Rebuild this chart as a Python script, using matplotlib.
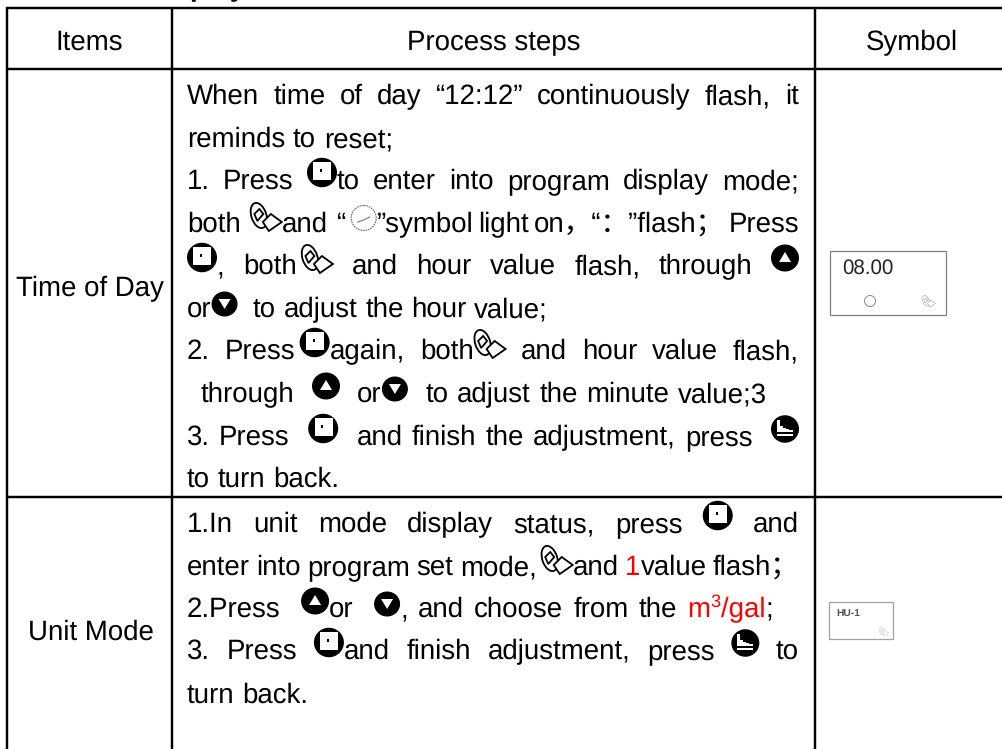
import numpy as np
import matplotlib
matplotlib.use("Agg")
import matplotlib.pyplot as plt
from matplotlib.font_manager import FontProperties
from matplotlib.patches import Ellipse, Rectangle, Polygon, Circle

plt.rcParams["text.hinting"] = "no_hinting"

# ---- content -------------------------------------------------------------
title_text = "Display"
header_labels = ["Items", "Process steps", "Symbol"]
row_labels = ["Time of Day", "Unit Mode"]
# words split by space; "+" glues pieces; @ = icon, # = red, ^ = red superscript
row1_steps = [
    ("When time of day “12:12” continuously flash, it", True),
    ("reminds to reset;", False),
    ("1. Press @set+to enter into program display mode;", True),
    ("both  @key+and  “+@gap+@clock+”symbol light on，“：”flash； Press", True),
    ("@set+, both+@gap+@key and hour value flash, through @up", True),
    ("or+@down  to adjust the hour value;", False),
    ("2. Press+@gap+@set+again, both+@key and hour value flash,", True),
    ("through  @up  or+@down  to adjust the minute value;3", True),
    ("3. Press  @set  and finish the adjustment, press  @back", True),
    ("to turn back.", False),
]
row2_steps = [
    ("1.In unit mode display status, press @set and", True),
    ("enter into program set mode,+@gap+@key+and #1+value flash；", True),
    ("2.Press  @up+or  @down+, and choose from the #m+^3+#/gal+;", True),
    ("3. Press @set+and finish adjustment, press @back to", True),
    ("turn back.", False),
]
symbol_labels = ["08.00", "HU-1"]

FAM = ["Liberation Sans", "Noto Sans CJK SC"]
PX = 27.6
PT = PX * 72 / 100
FONT = FontProperties(family=FAM, size=PT)
RED = "#ff0000"
INK = "#000000"

fig = plt.figure(figsize=(10.02, 7.49), dpi=100)
ax = fig.add_axes([0, 0, 1, 1])
ax.set_xlim(0, 1002)
ax.set_ylim(749, 0)
ax.axis("off")
renderer = fig.canvas.get_renderer()


def twidth(s, fp=FONT):
    return renderer.get_text_width_height_descent(s, fp, False)[0]


# ---- icons ---------------------------------------------------------------
def disc(x, cy, w, h):
    ax.add_patch(Ellipse((x + w / 2, cy), w, h, fc="black", ec="none", zorder=3))


def icon_set(x, base):
    cx, cy = x + 15, base - 16.5
    disc(x, cy, 30, 29.5)
    ax.add_patch(Rectangle((cx - 8.5, cy - 10.5), 18, 18, fc="white", ec="none", zorder=4))
    ax.add_patch(Rectangle((cx - 2, cy - 4), 2.2, 3, fc="black", ec="none", zorder=5))
    ax.add_patch(Rectangle((cx - 8, cy + 4), 11, 0.8, fc="#bbbbbb", ec="none", zorder=5))


def icon_up(x, base):
    cx, cy = x + 14, base - 16
    disc(x, cy, 28, 27)
    ax.add_patch(Polygon([(cx - 6, cy + 4), (cx + 6, cy + 4), (cx, cy - 6)], fc="white", ec="none", zorder=4))


def icon_down(x, base):
    cx, cy = x + 13, base - 13
    disc(x, cy, 26, 25)
    ax.add_patch(Polygon([(cx - 6, cy - 5), (cx + 6, cy - 5), (cx, cy + 5)], fc="white", ec="none", zorder=4))


def icon_back(x, base):
    cx, cy = x + 14, base - 16
    disc(x, cy, 28, 27.5)
    pts = [(-8, -9), (-5, -9), (-5, -3), (-2, -3), (-2, -1), (1, -1), (1, 0), (4, 0),
           (4, 1), (8, 1), (8, 3), (-8, 3)]
    ax.add_patch(Polygon([(cx + a, cy + b) for a, b in pts], fc="white", ec="none", zorder=4))
    ax.add_patch(Rectangle((cx - 8, cy + 5), 16, 2.2, fc="white", ec="none", zorder=4))


def icon_key(x, top, s=1.0, col="black", lw=1.3):
    ax.add_patch(Ellipse((x + 9 * s, top + 13.5 * s), 15 * s, 26 * s, angle=-18, fc="white", ec=col, lw=lw, zorder=3))
    ax.add_patch(Polygon([(x + 13 * s, top + 20 * s), (x + 21 * s, top + 12 * s), (x + 32 * s, top + 20 * s),
                          (x + 19 * s, top + 29 * s)], fc="white", ec=col, lw=lw, zorder=4))
    ax.add_patch(Polygon([(x + 4.5 * s, top + 12 * s), (x + 9.5 * s, top + 7 * s), (x + 13.5 * s, top + 12 * s),
                          (x + 7.5 * s, top + 19 * s)], fc="white", ec=col, lw=lw, zorder=5))


def icon_clock(x, base):
    cx, cy = x + 13.5, base - 14
    ax.add_patch(Circle((cx, cy), 12.5, fc="white", ec="#666666", lw=0.8, ls=(0, (1.5, 0.8)), zorder=3))
    ax.plot([cx - 6, cx, cx + 6], [cy + 4, cy + 2, cy - 1], color="#777777", lw=0.8, zorder=4)


ICONS = {
    "set": (30, lambda x, b: icon_set(x, b)),
    "up": (28, lambda x, b: icon_up(x, b)),
    "down": (26, lambda x, b: icon_down(x, b)),
    "back": (28, lambda x, b: icon_back(x, b)),
    "key": (32, lambda x, b: icon_key(x, b - 30)),
    "clock": (27, lambda x, b: icon_clock(x, b)),
    "gap": (4, lambda x, b: None),
}


# ---- inline layout -------------------------------------------------------
def piece_width(p):
    if p.startswith("@"):
        return ICONS[p[1:]][0]
    if p.startswith("#"):
        return twidth(p[1:])
    if p.startswith("^"):
        return twidth(p[1:]) * 0.66
    return twidth(p)


def draw_piece(p, x, base):
    if p.startswith("@"):
        ICONS[p[1:]][1](x, base)
    elif p.startswith("#"):
        ax.text(x, base, p[1:], color=RED, fontproperties=FONT, va="baseline", ha="left")
    elif p.startswith("^"):
        ax.text(x, base - 10, p[1:], color=RED, family=FAM, size=PT * 0.66, va="baseline", ha="left")
    else:
        ax.text(x, base, p, color=INK, fontproperties=FONT, va="baseline", ha="left")


def draw_line(spec, justify, x0, x1, base, natural=7.7):
    raw = spec.split(" ")
    words, weights = [], []
    w = 0
    for tok in raw:
        if tok == "":
            w += 1
            continue
        if words:
            weights.append(w + 1)
        words.append(tok.split("+"))
        w = 0
    widths = [sum(piece_width(p) for p in wd) for wd in words]
    unit = natural
    if justify and weights:
        unit = (x1 - x0 - sum(widths)) / sum(weights)
    x = x0
    for i, wd in enumerate(words):
        cx = x
        for p in wd:
            draw_piece(p, cx, base)
            cx += piece_width(p)
        x += widths[i]
        if i < len(weights):
            x += unit * weights[i]


# ---- grid ----------------------------------------------------------------
GRID = dict(color="black", lw=1.75, solid_capstyle="butt", zorder=2)
for y in (8, 69, 497):
    ax.plot([6, 1002], [y, y], **GRID)
for x in (7, 172, 815):
    ax.plot([x, x], [7, 749], **GRID)

# ---- text ----------------------------------------------------------------
ax.text(147, -3.5, title_text, family=FAM, weight="bold", size=PT, va="baseline", ha="left", color=INK)
for label, cx in zip(header_labels, (89.5, 494, 912)):
    ax.text(cx, 50, label, fontproperties=FONT, ha="center", va="baseline", color=INK)
ax.text(89.5, 296, row_labels[0], fontproperties=FONT, ha="center", va="baseline", color=INK)
ax.text(90.5, 640, row_labels[1], fontproperties=FONT, ha="center", va="baseline", color=INK)

L, R = 187, 799
bases1 = [104, 147, 189, 232, 274, 317, 359, 402, 445, 487]
for (spec, just), b in zip(row1_steps, bases1):
    if spec.startswith("through"):
        draw_line(spec, just, 201, 767, b)
    else:
        draw_line(spec, just, L, R, b)
bases2 = [532, 575, 617, 659, 703]
for (spec, just), b in zip(row2_steps, bases2):
    right = 773 if spec.startswith("2.Press") else R
    draw_line(spec, just, L, right, b)

# ---- symbol thumbnails ---------------------------------------------------
ax.add_patch(Rectangle((830, 251), 116, 64, fc="white", ec="#808080", lw=0.9, zorder=3))
ax.text(842, 274, symbol_labels[0], family=FAM, size=14.8, color="#222222", va="baseline", ha="left", zorder=4)
ax.add_patch(Circle((870, 301), 5.5, fc="white", ec="#777777", lw=0.6, zorder=4))
icon_key(922, 295, s=0.42, col="#999999", lw=0.4)

ax.add_patch(Rectangle((829, 602), 64, 37, fc="white", ec="#a0a0a0", lw=0.9, zorder=3))
ax.text(836, 616, symbol_labels[1], family=FAM, weight="bold", size=7.4, color="#555555", va="baseline", ha="left", zorder=4)
icon_key(879, 627, s=0.3, col="#bbbbbb", lw=0.3)

fig.savefig("out.png", dpi=100, facecolor="white")
